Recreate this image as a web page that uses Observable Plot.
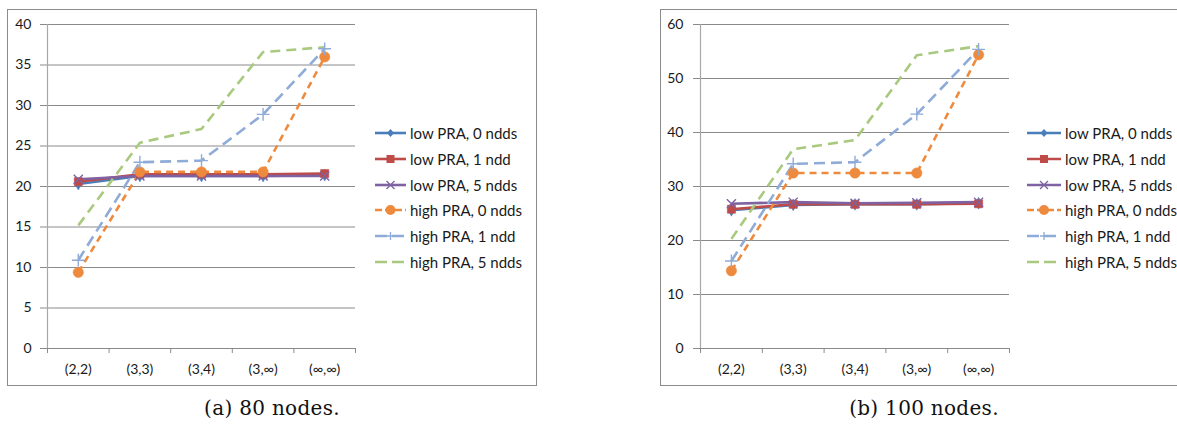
<!DOCTYPE html>
<html>
<head>
<meta charset="utf-8">
<script src="https://cdn.jsdelivr.net/npm/d3@7"></script>
<script src="https://cdn.jsdelivr.net/npm/@observablehq/plot@0.6"></script>
<style>
  html, body { margin: 0; padding: 0; background: #fff; }
  body { width: 1177px; height: 427px; position: relative; overflow: hidden; font-family: Lato, "Open Sans", sans-serif; }
  .box { position: absolute; border: 1px solid #8c8c8c; box-sizing: border-box; }
  .chart { position: absolute; top: 0; }
  .legend { position: absolute; font-family: Lato, sans-serif; font-size: 15px; color: #1a1a1a; }
  .legend .row { position: absolute; left: 0; height: 20px; display: flex; align-items: center; white-space: nowrap; }
  .legend svg { display: block; margin-right: 4px; }
  .caption { position: absolute; font-family: "DejaVu Serif", serif; font-size: 20px; color: #111; letter-spacing: 0.3px; transform: translateX(-50%); white-space: nowrap; }
</style>
</head>
<body>
<script>
// ---- data ----
const categories = ["(2,2)", "(3,3)", "(3,4)", "(3,\u221e)", "(\u221e,\u221e)"];
const seriesNames = ["low PRA, 0 ndds", "low PRA, 1 ndd", "low PRA, 5 ndds", "high PRA, 0 ndds", "high PRA, 1 ndd", "high PRA, 5 ndds"];

// (a) 80 nodes
const a_low0  = [20.3, 21.3, 21.3, 21.3, 21.4];
const a_low1  = [20.6, 21.5, 21.5, 21.5, 21.6];
const a_low5  = [20.9, 21.3, 21.3, 21.3, 21.3];
const a_high0 = [9.4, 21.8, 21.8, 21.8, 36.0];
const a_high1 = [10.9, 23.0, 23.2, 28.9, 37.0];
const a_high5 = [15.2, 25.4, 27.1, 36.6, 37.2];
const a_yTicks = [0, 5, 10, 15, 20, 25, 30, 35, 40];

// (b) 100 nodes
const b_low0  = [25.6, 26.6, 26.7, 26.7, 26.9];
const b_low1  = [25.8, 26.7, 26.7, 26.7, 26.8];
const b_low5  = [26.8, 27.1, 26.9, 27.0, 27.1];
const b_high0 = [14.4, 32.5, 32.5, 32.5, 54.4];
const b_high1 = [16.2, 34.2, 34.5, 43.4, 55.4];
const b_high5 = [20.3, 36.9, 38.6, 54.3, 56.0];
const b_yTicks = [0, 10, 20, 30, 40, 50, 60];

const captions = ["(a) 80 nodes.", "(b) 100 nodes."];

// ---- styles ----
const styles = [
  {color: "#4a7ebb", dash: null,   symbol: "diamond", r: 3.6, filled: true},
  {color: "#be4b48", dash: null,   symbol: "square",  r: 4.6, filled: true},
  {color: "#7e62a1", dash: null,   symbol: "times",   r: 4.2, filled: false},
  {color: "#ee8a3e", dash: "7,5",  symbol: "circle",  r: 5.2, filled: true},
  {color: "#8fabd8", dash: "11,6", symbol: "plus",    r: 4.2, filled: false},
  {color: "#a9c97f", dash: "10,6", symbol: null,      r: 0,   filled: false}
];

function buildRows(arrays) {
  const rows = [];
  arrays.forEach((vals, s) => vals.forEach((v, i) => rows.push({s, i, v})));
  return rows;
}

function panel(arrays, yTicks, opts) {
  const rows = buildRows(arrays);
  const idx = categories.map((_, i) => i);
  const bounds = [-0.5, 0.5, 1.5, 2.5, 3.5, 4.5];
  const marks = [
    Plot.gridY(yTicks, {stroke: "#8a8a8a", strokeOpacity: 1, strokeWidth: 1}),
    Plot.axisY(yTicks, {tickSize: 7, tickPadding: opts.tickPad, stroke: "#8a8a8a", strokeOpacity: 1, fontSize: 14, fill: "#1a1a1a", label: null}),
    Plot.ruleX([-0.5], {stroke: "#a8a8a8", strokeWidth: 1.2}),
    Plot.axisX(bounds, {tickSize: 5, tickFormat: () => "", stroke: "#8a8a8a", strokeOpacity: 1, label: null}),
    Plot.axisX(idx, {tickSize: 0, tickPadding: 16, tickFormat: i => categories[i], fontSize: 14, fill: "#1a1a1a", label: null})
  ];
  styles.forEach((st, s) => {
    const data = rows.filter(d => d.s === s);
    marks.push(Plot.line(data, {x: "i", y: "v", stroke: st.color, strokeWidth: 2.6,
      strokeDasharray: st.dash, strokeLinejoin: "round", strokeLinecap: "butt"}));
  });
  styles.forEach((st, s) => {
    if (!st.symbol) return;
    const data = rows.filter(d => d.s === s);
    marks.push(Plot.dot(data, {x: "i", y: "v", symbol: () => st.symbol, r: st.r,
      fill: st.filled ? st.color : "none", stroke: st.color, strokeWidth: st.filled ? 0.5 : 1.4}));
  });
  return Plot.plot({
    width: opts.width, height: 390,
    marginLeft: opts.ml, marginRight: opts.mr, marginTop: 24, marginBottom: 42,
    x: {domain: [-0.5, 4.5], axis: null},
    y: {domain: [yTicks[0], yTicks[yTicks.length - 1]], axis: null},
    symbol: {type: "identity"},
    style: {fontFamily: "Lato, sans-serif", background: "transparent", overflow: "visible"},
    marks
  });
}

function legend(left, top, lineLen) {
  const div = document.createElement("div");
  div.className = "legend";
  div.style.left = left + "px";
  div.style.top = top + "px";
  seriesNames.forEach((name, s) => {
    const st = styles[s];
    const row = document.createElement("div");
    row.className = "row";
    row.style.top = (s * 25.8) + "px";
    const w = lineLen, c = w / 2;
    let sym = "";
    if (st.symbol === "diamond") sym = `<path d="M${c},6 l3.5,4 l-3.5,4 l-3.5,-4z" fill="${st.color}"/>`;
    if (st.symbol === "square") sym = `<rect x="${c-4}" y="6" width="8" height="8" fill="${st.color}"/>`;
    if (st.symbol === "times") sym = `<path d="M${c-4},6 l8,8 M${c+4},6 l-8,8" stroke="${st.color}" stroke-width="1.3"/>`;
    if (st.symbol === "circle") sym = `<circle cx="${c}" cy="10" r="5" fill="${st.color}"/>`;
    if (st.symbol === "plus") sym = `<path d="M${c-4},10 h8 M${c},6 v8" stroke="${st.color}" stroke-width="1.3"/>`;
    row.innerHTML = `<svg width="${w}" height="20"><line x1="0" x2="${w}" y1="10" y2="10" stroke="${st.color}" stroke-width="2.6" ${st.dash ? `stroke-dasharray="${st.dash === "7,5" ? "7,3" : "12,5"}"` : ""}/>${sym}</svg><span>${name}</span>`;
    div.appendChild(row);
  });
  document.body.appendChild(div);
}

// boxes
const boxA = document.createElement("div");
boxA.className = "box";
Object.assign(boxA.style, {left: "7px", top: "9px", width: "530px", height: "377px"});
document.body.appendChild(boxA);
const boxB = document.createElement("div");
boxB.className = "box";
Object.assign(boxB.style, {left: "660px", top: "9px", width: "530px", height: "377px"});
document.body.appendChild(boxB);

// panel a
const pa = panel([a_low0, a_low1, a_low5, a_high0, a_high1, a_high5], a_yTicks, {width: 540, ml: 47, mr: 185, tickPad: 9});
pa.classList.add("chart");
pa.style.left = "0px";
document.body.appendChild(pa);
legend(375, 123, 31);

// panel b
const pb = panel([b_low0, b_low1, b_low5, b_high0, b_high1, b_high5], b_yTicks, {width: 577, ml: 100, mr: 168, tickPad: 10});
pb.classList.add("chart");
pb.style.left = "600px";
document.body.appendChild(pb);
legend(1027, 123, 34);

// captions
[[272, captions[0]], [924, captions[1]]].forEach(([x, t]) => {
  const d = document.createElement("div");
  d.className = "caption";
  d.textContent = t;
  d.style.left = x + "px";
  d.style.top = "396px";
  document.body.appendChild(d);
});
</script>
</body>
</html>
